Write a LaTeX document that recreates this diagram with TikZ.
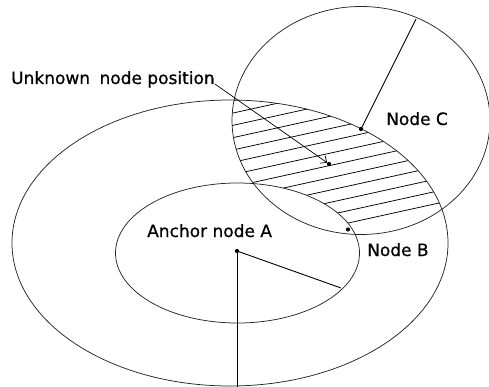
\documentclass[tikz,border=0pt]{standalone}
\usepackage{fontspec}
\setmainfont{DejaVu Sans}
\newfontfamily\lblfont[FakeBold=0.7]{DejaVu Sans}
\usetikzlibrary{arrows.meta}
\begin{document}
\begin{tikzpicture}[x=1pt,y=-1pt,
  outline/.style={line width=0.75pt,black!85},
  hatch/.style={line width=0.75pt,black},
  radline/.style={line width=0.9pt,black},
  dot/.style={circle,fill=black,inner sep=0pt,minimum size=4.2pt},
  lbl/.style={inner sep=0pt,font=\lblfont\fontsize{17}{20}\selectfont,text=black}]
\useasboundingbox (0,0) rectangle (489,387);
% hatched region: inside C and outer ellipse, outside inner ellipse
\begin{scope}
  \clip (361,120.5) ellipse [x radius=129, y radius=114];
  \clip (230,243) ellipse [x radius=218, y radius=143];
  \foreach \k in {0,...,12} {
    \draw[hatch] (220,{152+12.3*\k-48.4}) -- (460,{152+12.3*\k-101.2});
  }
  \fill[white] (237.5,253) ellipse [x radius=122, y radius=70];
\end{scope}
% outlines
\draw[outline] (230,243) ellipse [x radius=218, y radius=143];
\draw[outline] (237.5,253) ellipse [x radius=122, y radius=70];
\draw[outline] (361,120.5) ellipse [x radius=129, y radius=114];
% nodes (points)
\node[dot] (a) at (237,251) {};
\node[dot] (b) at (348,229.5) {};
\node[dot] (c) at (361,129) {};
\node[dot] (u) at (329,164) {};
\coordinate (ae) at (341,288);
\coordinate (ab) at (237,389);
\coordinate (ce) at (416,19);
% radius lines
\draw[radline] (a.center) -- (ae);
\draw[radline] (a.center) -- (ab);
\draw[radline] (c.center) -- (ce);
% labels
\node[lbl,anchor=base west] (ul) at (11,84) {Unknown\hspace{4pt} node position};
\node[lbl,anchor=base west] (cl) at (386,125) {Node C};
\node[lbl,anchor=base west] (al) at (147,237) {Anchor node A};
\node[lbl,anchor=base west] (bl) at (367,256) {Node B};
% pointer
\draw[line width=0.7pt,-{Straight Barb[length=5pt,width=9pt]}] (ul.base east) -- (u);
\end{tikzpicture}
\end{document}
